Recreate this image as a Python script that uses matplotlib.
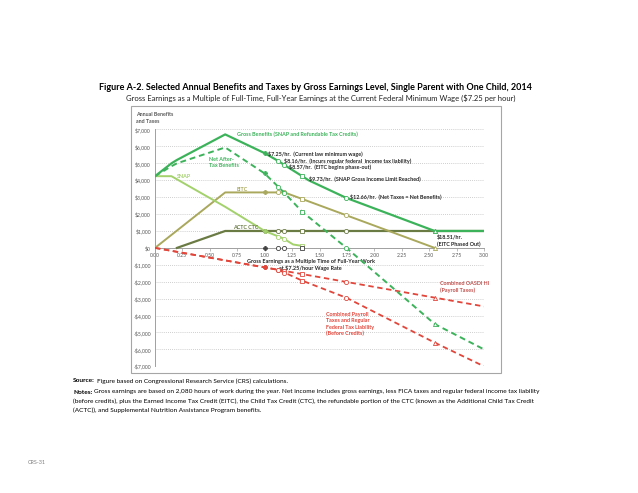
import numpy as np
import matplotlib.pyplot as plt
from matplotlib.patches import Rectangle

plt.rcParams['font.family'] = ['Lato', 'DejaVu Sans']

# --- Values (x = gross earnings as multiple of full-time min wage earnings) ---
gross_x = [0.0, 0.15, 0.20, 0.64, 1.0, 1.126, 1.18, 1.34, 1.40, 1.746, 2.55, 3.0]
gross_y = [4240, 5000, 5200, 6710, 5600, 5130, 4900, 4250, 4000, 2950, 1000, 1000]

net_x = [0.0, 0.15, 0.20, 0.64, 1.0, 1.126, 1.18, 1.34, 1.746, 2.55, 3.0]
net_y = [4240, 4830, 5000, 5940, 4400, 3600, 3250, 2150, 0, -4500, -6000]

snap_x = [0.0, 0.15, 0.64, 1.0, 1.17, 1.26, 1.34]
snap_y = [4240, 4240, 2430, 1000, 560, 200, 120]

eitc_x = [0.0, 0.64, 1.18, 2.55]
eitc_y = [0, 3280, 3280, 0]

actc_x = [0.20, 0.64, 3.0]
actc_y = [0, 1000, 1000]

payroll_x = [0.0, 3.0]
payroll_y = [0, -3460]

tax_x = [0.0, 1.126, 1.34, 1.746, 2.55, 3.0]
tax_y = [0, -1300, -1930, -2950, -5600, -7000]

# points of interest (hourly wage thresholds)
key_x = [1.0, 1.126, 1.18, 1.34, 1.746, 2.55]
key_wage = ['$7.25/hr.', '$8.16/hr.', '$8.57/hr.', '$9.73/hr.', '$12.66/hr.', '$18.51/hr.']
key_note = ['(Current law minimum wage)', '(Incurs regular federal  income tax liability)',
            '(EITC begins phase-out)', '(SNAP Gross Income Limit Reached)',
            '(Net Taxes = Net Benefits)', '(EITC Phased Out)']
key_marker = ['P', 'o', 'o', 's', 'o', '^']

# colours
c_gross = '#3cb35a'
c_snap = '#a3d16c'
c_eitc = '#a9a85c'
c_actc = '#6b7b44'
c_red = '#e2463b'
c_red_dark = '#c0504d'
c_text = '#262626'
c_grey = '#595959'

fig = plt.figure(figsize=(6.38, 4.93), dpi=100)
ax = fig.add_axes([155 / 638, 1 - 366.3 / 493, 329 / 638, 236.8 / 493])

# outer chart frame
fig.add_artist(Rectangle((131 / 638, 1 - 373 / 493), 370 / 638, 267 / 493,
                         transform=fig.transFigure, fill=False, ec='#a6a6a6', lw=0.8))

series = [
    (actc_x, actc_y, c_actc, '-', 1.6, 3),
    (eitc_x, eitc_y, c_eitc, '-', 1.4, 3),
    (snap_x, snap_y, c_snap, '-', 1.4, 3),
    (payroll_x, payroll_y, c_red, (0, (3, 2)), 1.3, 3),
    (tax_x, tax_y, c_red, (0, (3, 2)), 1.3, 3),
    (net_x, net_y, c_gross, (0, (3, 2)), 1.4, 4),
    (gross_x, gross_y, c_gross, '-', 1.6, 4),
]
for xs, ys, col, ls, lw, z in series:
    ax.plot(xs, ys, color=col, ls=ls, lw=lw, zorder=z)
    for kx, mk in zip(key_x, key_marker):
        if xs[0] <= kx <= xs[-1]:
            ky = np.interp(kx, xs, ys)
            ax.plot(kx, ky, marker=mk, ms=3.0, mec=col, mew=0.6,
                    mfc=col if mk == 'P' else 'white', zorder=z + 1)

# marker row on the zero line
for kx, mk in zip(key_x[:4], key_marker[:4]):
    ax.plot(kx, 0, marker=mk, ms=3.0, mec='#404040', mew=0.6,
            mfc='#404040' if mk == 'P' else 'white', zorder=6)

# axes styling
ax.set_xlim(0, 3)
ax.set_ylim(-7000, 7000)
yt = np.arange(-7000, 7001, 1000)
ax.set_yticks(yt)
ax.set_yticklabels(['$0' if v == 0 else (f'${v:,}' if v > 0 else f'-${-v:,}') for v in yt])
xt = np.arange(0, 3.01, 0.25)
ax.set_xticks(xt)
ax.set_xticklabels([f'{t:.2f}' for t in xt])
ax.tick_params(axis='y', length=0, labelsize=3.7, labelcolor=c_grey, pad=3)
ax.tick_params(axis='x', length=2, width=0.5, color='#a0a0a0', labelsize=3.7,
               labelcolor=c_grey, pad=1.5)
ax.spines['bottom'].set_position(('data', 0))
for s in ['top', 'right']:
    ax.spines[s].set_visible(False)
for s in ['left', 'bottom']:
    ax.spines[s].set_color('#a0a0a0')
    ax.spines[s].set_linewidth(0.7)
ax.grid(axis='y', ls=(0, (1, 1.5)), color='#bfbfbf', lw=0.6)
ax.set_axisbelow(True)

# threshold annotations
tsize = 3.9
ann_pos = [(1.03, 5530), (1.18, 5150), (1.22, 4790), (1.40, 4060), (1.78, 2980)]
for (tx, ty), w, n in zip(ann_pos, key_wage, key_note):
    ax.text(tx, ty, f'{w}  {n}', fontsize=tsize, weight='bold', color=c_text,
            ha='left', va='center', zorder=8)
ax.text(2.57, 420, f'{key_wage[5]}\n{key_note[5]}', fontsize=tsize, weight='bold',
        color=c_text, ha='left', va='center', linespacing=1.3, zorder=8)

# series labels
ax.text(0.745, 6710, 'Gross Benefits (SNAP and Refundable Tax Credits)', fontsize=tsize,
        weight='bold', color=c_gross, ha='left', va='center')
ax.text(0.49, 5040, 'Net After-\nTax Benefits', fontsize=tsize, weight='bold',
        color=c_gross, ha='left', va='center', linespacing=1.2)
ax.text(0.2, 4240, 'SNAP', fontsize=tsize, weight='bold', color=c_snap, ha='left', va='center')
ax.text(0.745, 3450, 'EITC', fontsize=tsize, weight='bold', color=c_eitc, ha='left', va='center')
ax.text(0.71, 1180, 'ACTC CTC', fontsize=tsize, weight='bold', color=c_actc, ha='left', va='center')
ax.text(2.6, -2300, 'Combined OASDI HI\n(Payroll Taxes)', fontsize=tsize, weight='bold',
        color=c_red_dark, ha='left', va='center', linespacing=1.3)
ax.text(1.56, -4510, 'Combined Payroll\nTaxes and Regular\nFederal Tax Liability\n(Before Credits)',
        fontsize=tsize, weight='bold', color=c_red, ha='left', va='center', linespacing=1.3)
ax.text(1.42, -1000, 'Gross Earnings as a Multiple Time of Full-Year Work\nat $7.25/hour Wage Rate',
        fontsize=4.0, weight='bold', color=c_text, ha='center', va='center', linespacing=1.25)

fig.text(136 / 638, 1 - 118 / 493, 'Annual Benefits\nand Taxes', fontsize=3.8, weight='bold',
         color=c_grey, ha='left', va='center', linespacing=1.3)

# page text
fig.text(0.495, 1 - 87 / 493,
         'Figure A-2. Selected Annual Benefits and Taxes by Gross Earnings Level, Single Parent with One Child, 2014',
         fontsize=6.5, weight='bold', color='black', ha='center', va='center')
fig.text(0.502, 1 - 98.5 / 493,
         'Gross Earnings as a Multiple of Full-Time, Full-Year Earnings at the Current Federal Minimum Wage ($7.25 per hour)',
         fontsize=5.5, color='#222222', ha='center', va='center')

renderer = fig.canvas.get_renderer()
nsize = 4.65


def label_line(y_px, head, body):
    t = fig.text(73 / 638, 1 - y_px / 493, head, fontsize=nsize, weight='bold',
                 ha='left', va='center')
    bb = t.get_window_extent(renderer)
    fig.text((bb.x1 + 2) / 638, 1 - y_px / 493, body, fontsize=nsize, ha='left', va='center')


label_line(381, 'Source:', 'Figure based on Congressional Research Service (CRS) calculations.')
label_line(392, 'Notes:', 'Gross earnings are based on 2,080 hours of work during the year. Net income includes '
           'gross earnings, less FICA taxes and regular federal income tax liability')
fig.text(73 / 638, 1 - 401.5 / 493,
         '(before credits), plus the Earned Income Tax Credit (EITC), the Child Tax Credit (CTC), the refundable '
         'portion of the CTC (known as the Additional Child Tax Credit', fontsize=nsize, ha='left', va='center')
fig.text(73 / 638, 1 - 410.5 / 493,
         '(ACTC)), and Supplemental Nutrition Assistance Program benefits.',
         fontsize=nsize, ha='left', va='center')

fig.text(28 / 638, 1 - 463 / 493, 'CRS-31', fontsize=3.9, color='#7f7f7f', ha='left', va='center')

fig.savefig('out.png', dpi=100)
